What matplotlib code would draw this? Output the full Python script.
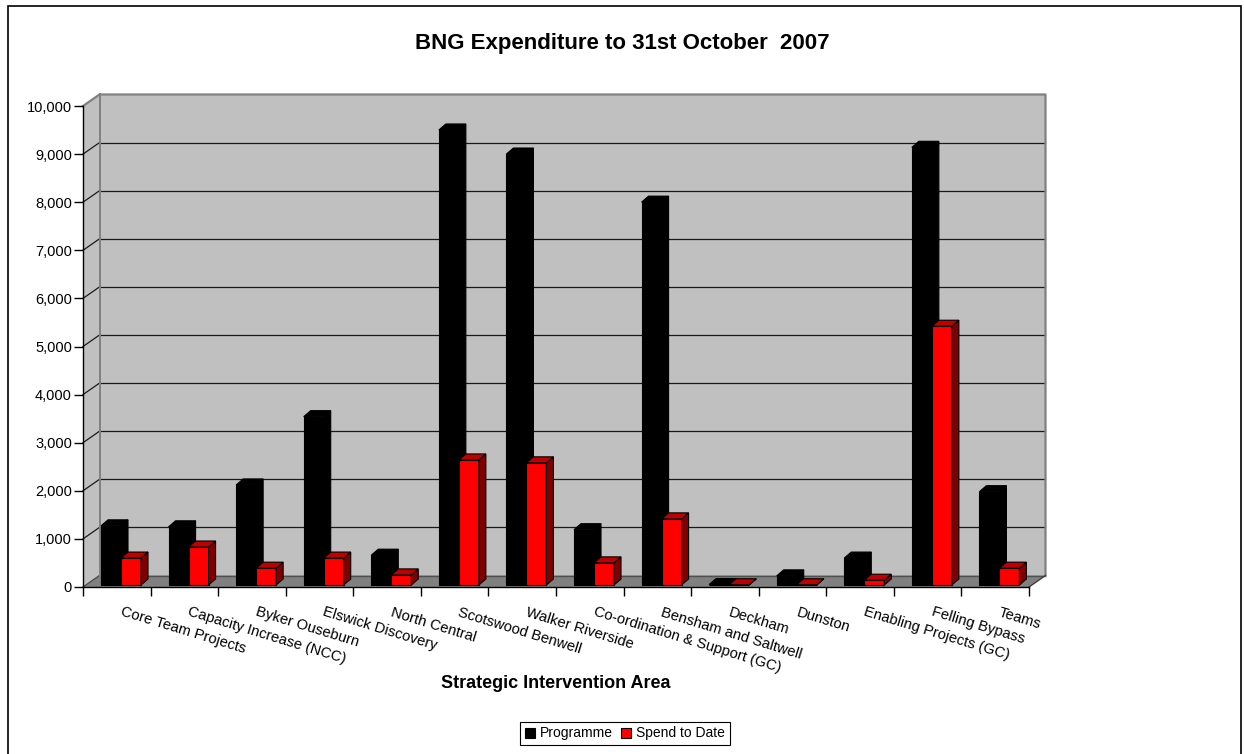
import matplotlib
matplotlib.use("Agg")
import matplotlib.pyplot as plt
from matplotlib.patches import Polygon, Rectangle, Patch
import matplotlib.transforms as mtransforms

# Strategic intervention areas and expenditure (thousands)
categories = [
    "Core Team Projects", "Capacity Increase (NCC)", "Byker Ouseburn",
    "Elswick Discovery", "North Central", "Scotswood Benwell",
    "Walker Riverside", "Co-ordination & Support (GC)", "Bensham and Saltwell",
    "Deckham", "Dunston", "Enabling Projects (GC)", "Felling Bypass", "Teams",
]
programme = [1230, 1210, 2080, 3500, 620, 9460, 8960, 1150, 7960, 10, 190, 560, 9100, 1940]
spend_to_date = [560, 790, 350, 560, 210, 2600, 2540, 460, 1375, 5, 5, 100, 5380, 350]
y_ticks = list(range(0, 10001, 1000))

plt.rcParams['font.family'] = ['Liberation Sans', 'DejaVu Sans']

W, H = 1244, 754
fig = plt.figure(figsize=(W / 100, H / 100), dpi=100)

# front plane of the plot box, in pixels
left_px, right_px, top_px, bottom_px = 83, 1029, 106, 587
ax = fig.add_axes([left_px / W, 1 - bottom_px / H,
                   (right_px - left_px) / W, (bottom_px - top_px) / H])
n = len(categories)
ymax = y_ticks[-1]
ax.set_xlim(0, n)
ax.set_ylim(0, ymax)
ax.patch.set_visible(False)

sx = (right_px - left_px) / n      # pixels per category
sy = (bottom_px - top_px) / ymax   # pixels per unit


def dxu(px):
    return px / sx


def dyu(px):
    return px / sy


# depth of the walls
wdx, wdy = dxu(16.5), dyu(11.5)
wall_c, floor_c, edge_c = '#C0C0C0', '#808080', '#808080'

ax.add_patch(Polygon([(wdx, wdy), (n + wdx, wdy), (n + wdx, ymax + wdy), (wdx, ymax + wdy)],
                     closed=True, fc=wall_c, ec='none', zorder=0.5, clip_on=False))
ax.add_patch(Polygon([(0, 0), (wdx, wdy), (wdx, ymax + wdy), (0, ymax)],
                     closed=True, fc=wall_c, ec='none', zorder=0.5, clip_on=False))
ax.add_patch(Polygon([(0, 0), (n, 0), (n + wdx, wdy), (wdx, wdy)],
                     closed=True, fc=floor_c, ec='none', zorder=0.6, clip_on=False))

# gridlines on the back and side walls
for v in y_ticks[1:-1]:
    ax.plot([wdx, n + wdx], [v + wdy, v + wdy], color='#1a1a1a', lw=0.9, zorder=0.8, clip_on=False)
    ax.plot([0, wdx], [v, v + wdy], color='#1a1a1a', lw=0.9, zorder=0.8, clip_on=False)
ax.plot([wdx, n + wdx], [wdy, wdy], color='#505050', lw=1.0, zorder=0.8, clip_on=False)
ax.plot([0, wdx], [0, wdy], color='#505050', lw=1.0, zorder=0.8, clip_on=False)
# wall outline
ax.plot([0, wdx, n + wdx, n + wdx], [ymax, ymax + wdy, ymax + wdy, wdy],
        color=edge_c, lw=1.6, zorder=0.9, clip_on=False)
ax.plot([wdx, wdx], [wdy, ymax + wdy], color=edge_c, lw=1.4, zorder=0.9, clip_on=False)
ax.plot([n, n + wdx], [0, wdy], color='#404040', lw=1.0, zorder=0.9, clip_on=False)

# 3-D columns
base = dyu(2)
bar_w = dxu(20)
ddx, ddy = dxu(7), dyu(6)
off_prog, off_spend = dxu(18), dxu(38)


def draw_bar(x0, v, front, top, side):
    y0, y1 = base, base + v
    kw = dict(closed=True, ec='black', lw=0.8, zorder=3, clip_on=False, joinstyle='miter')
    ax.add_patch(Polygon([(x0, y0), (x0 + bar_w, y0), (x0 + bar_w, y1), (x0, y1)], fc=front, **kw))
    ax.add_patch(Polygon([(x0 + bar_w, y0), (x0 + bar_w + ddx, y0 + ddy),
                          (x0 + bar_w + ddx, y1 + ddy), (x0 + bar_w, y1)], fc=side, **kw))
    ax.add_patch(Polygon([(x0, y1), (x0 + bar_w, y1), (x0 + bar_w + ddx, y1 + ddy),
                          (x0 + ddx, y1 + ddy)], fc=top, **kw))


for i in range(n):
    draw_bar(i + off_prog, programme[i], 'black', 'black', 'black')
    draw_bar(i + off_spend, spend_to_date[i], '#FF0000', '#C00000', '#800000')

# axes, ticks and labels
for s in ('top', 'right'):
    ax.spines[s].set_visible(False)
for s in ('left', 'bottom'):
    ax.spines[s].set_color('black')
    ax.spines[s].set_linewidth(1.0)
    ax.spines[s].set_zorder(4)
ax.set_yticks(y_ticks)
ax.set_yticklabels([f"{v:,}" for v in y_ticks])
ax.set_xticks(range(n + 1))
ax.set_xticklabels([])
ax.tick_params(axis='both', direction='out', length=6.5, width=1.0, color='black')
ax.tick_params(axis='y', labelsize=10.5, pad=1.5)

lab_tr = mtransforms.offset_copy(ax.transData, fig=fig, x=6, y=-18, units='dots')
for i, name in enumerate(categories):
    ax.text(i + 0.5, 0, name, transform=lab_tr, ha='left', va='top', rotation=-17,
            rotation_mode='anchor', fontsize=10.6, clip_on=False)

fig.text(556 / W, 1 - 683 / H, "Strategic Intervention Area", ha='center', va='center',
         fontsize=13, fontweight='bold')
fig.text(0.5, 1 - 49.5 / H, "BNG Expenditure to 31st October  2007", ha='center',
         va='baseline', fontsize=16, fontweight='bold')

leg = fig.legend(handles=[Patch(fc='black', ec='black', lw=0.8),
                          Patch(fc='#FF0000', ec='black', lw=0.8)],
                 labels=['Programme', 'Spend to Date'], loc='center',
                 bbox_to_anchor=(625 / W, 1 - 733.5 / H), ncol=2, frameon=True,
                 fancybox=False, edgecolor='black', framealpha=1, fontsize=10,
                 handlelength=0.7, handleheight=0.7, handletextpad=0.35,
                 columnspacing=0.6, borderpad=0.35, borderaxespad=0)
leg.get_frame().set_linewidth(0.8)

# outer chart border
fig.add_artist(Rectangle((8 / W, -0.05), (1241 - 8) / W, 1.05 - 6 / H,
                         transform=fig.transFigure, fill=False, ec='black', lw=1.2))

fig.savefig("out.png", dpi=100)
